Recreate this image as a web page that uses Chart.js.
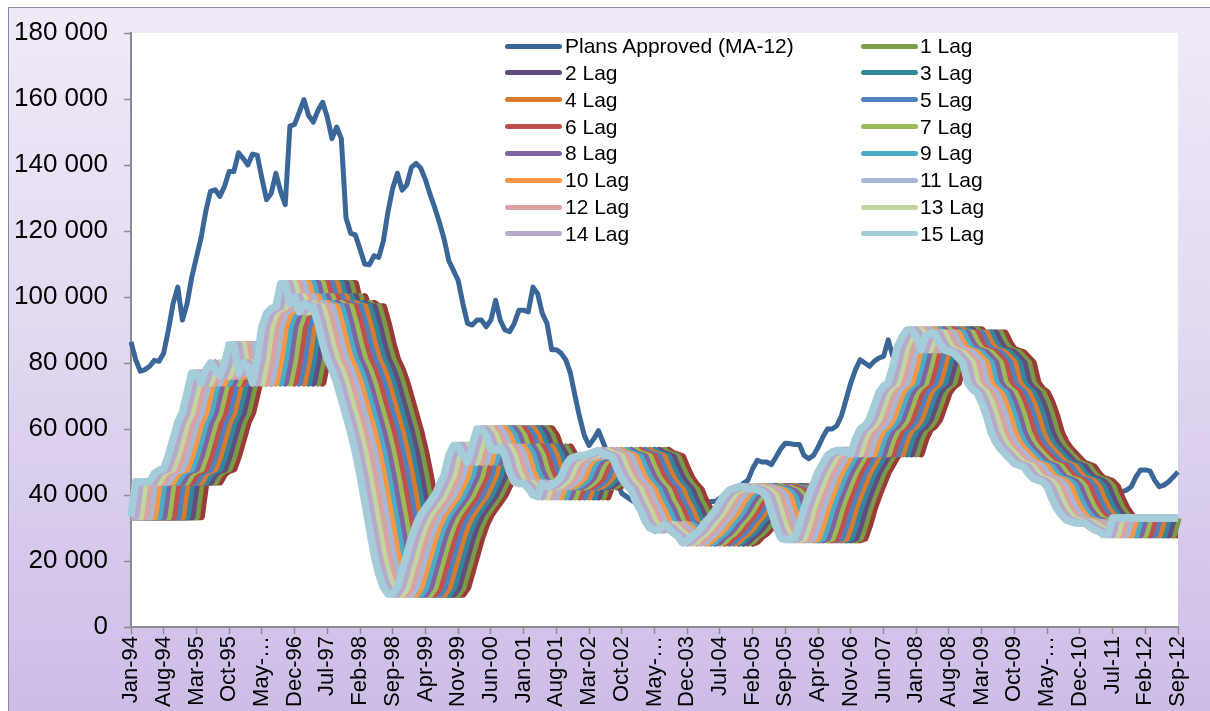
<!DOCTYPE html>
<html>
<head>
<meta charset="utf-8">
<title>Plans Approved (MA-12) and lags</title>
<script src="https://cdn.jsdelivr.net/npm/chart.js@4.4.1/dist/chart.umd.min.js"></script>
<style>
  html, body { margin: 0; padding: 0; background: #ffffff; }
  #stage { position: relative; width: 1210px; height: 711px; overflow: hidden; }
  #frame { position: absolute; left: 8px; top: 7px; right: 0; bottom: 0;
           background: linear-gradient(#f0eaf8 0%, #e3d9f1 45%, #ccbde7 100%);
           border-left: 1px solid #8e82a8; border-top: 1px solid #8e82a8; }
  #chart { position: absolute; left: 0; top: 0; }
  #legend { position: absolute; left: 0; top: 0; width: 1210px; height: 711px; pointer-events: none;
            font-family: "Liberation Sans", Arial, sans-serif; font-size: 21px; color: #000; }
  .key { position: absolute; height: 5px; border-radius: 2.5px; }
  .lab { position: absolute; line-height: 26px; white-space: nowrap; }
</style>
</head>
<body>
<div id="stage">
  <div id="frame"></div>
  <canvas id="chart" width="1210" height="711"></canvas>
  <div id="legend"></div>
</div>
<script>
// Month labels, Jan-94 .. Sep-12
const monthNames = ['Jan','Feb','Mar','Apr','May','Jun','Jul','Aug','Sep','Oct','Nov','Dec'];
const categories = [];
for (let y = 1994, m = 0; categories.length < 225; m++) {
  if (m === 12) { m = 0; y++; }
  categories.push(monthNames[m] + '-' + String(y % 100).padStart(2, '0'));
}

// Labels shown on the category axis (one every seventh month)
const tickLabels = ['Jan-94','Aug-94','Mar-95','Oct-95','May-\u2026','Dec-96','Jul-97','Feb-98','Sep-98',
  'Apr-99','Nov-99','Jun-00','Jan-01','Aug-01','Mar-02','Oct-02','May-\u2026','Dec-03','Jul-04','Feb-05',
  'Sep-05','Apr-06','Nov-06','Jun-07','Jan-08','Aug-08','Mar-09','Oct-09','May-\u2026','Dec-10','Jul-11',
  'Feb-12','Sep-12'];
const tickEvery = 7;

// Value axis ticks
const yTicks = [0, 20000, 40000, 60000, 80000, 100000, 120000, 140000, 160000, 180000];

// Plans approved, 12-month moving average (Jan-94 .. Sep-12)
const plansApproved = [
  86400, 81000, 77500, 78000, 79000, 80800, 80500, 83000, 90000, 98000, 103000, 93000,
  98000, 106000, 112000, 118000, 126000, 132000, 132500, 130500, 133500, 138000, 138000, 143700,
  142000, 140000, 143300, 143000, 136000, 129500, 131400, 137500, 132000, 128000, 151800, 152300,
  156000, 159800, 155000, 153000, 156500, 159000, 154500, 148000, 151500, 148000, 124000, 119300,
  118800, 114500, 110000, 109800, 112500, 112000, 117000, 126000, 133000, 137500, 132400, 134000,
  139300, 140500, 139000, 135500, 131000, 127000, 122500, 117500, 111000, 108000, 105000, 98000,
  92000, 91500, 93000, 93000, 91000, 93000, 99000, 93000, 90000, 89500, 92000, 96000,
  96000, 95500, 103000, 101000, 95000, 92000, 84000, 84000, 83000, 81000, 77000, 70000,
  63500, 58000, 55000, 57000, 59500, 56000, 52500, 48000, 44000, 40500, 39500, 38500,
  37500, 35000, 32000, 30000, 29000, 29500, 30000, 30500, 31000, 31500, 32000, 33000,
  34000, 35000, 36000, 37000, 38000, 38000, 39000, 40000, 40500, 41500, 42500, 43500,
  44500, 48000, 50500, 50000, 50000, 49200, 51500, 54000, 55700, 55500, 55300, 55300,
  52000, 51000, 52000, 54500, 57500, 60000, 60000, 61000, 64000, 69000, 74000, 78000,
  81000, 80000, 79000, 80500, 81500, 82000, 87000, 82000, 84000, 85000, 86000, 85000,
  84000, 85000, 84000, 83000, 82000, 81000, 80000, 79000, 78000, 77000, 76000, 75000,
  74000, 72000, 70000, 68000, 66000, 64000, 62000, 60000, 58000, 56000, 54000, 52000,
  50000, 49000, 48000, 47000, 46000, 45500, 45000, 44500, 44000, 43500, 43000, 42500,
  42000, 42000, 41500, 41500, 41000, 41000, 41000, 41000, 41000, 41500, 42500, 45500,
  47600, 47600, 47300, 44500, 42500, 43000, 44000, 45500, 47000
];

// Series that the lags are taken from, Jan-94 .. Dec-13 (lag k at month i reads month i + k)
const laggedSeries = [
  33500, 33500, 33500, 33500, 33500, 33500, 33500, 33500, 33500, 33500, 33500, 33500,
  33500, 33500, 33500, 33500, 44000, 44000, 44000, 44000, 46500, 47500, 48000, 52000,
  57000, 62000, 65000, 71000, 77000, 77000, 74000, 78000, 80000, 78000, 76000, 80000,
  85500, 85500, 77000, 80000, 79000, 74000, 81000, 91000, 95000, 96500, 97000, 104000,
  104000, 98000, 100000, 95500, 98000, 97000, 97000, 92000, 86000, 81000, 78000, 74000,
  69000, 64000, 59000, 53000, 46000, 38000, 30000, 22000, 16000, 12000, 10000, 10000,
  12000, 17000, 22000, 27000, 31000, 34000, 36000, 38000, 40000, 43000, 46000, 52000,
  55000, 55000, 52000, 50000, 55000, 60000, 60000, 58000, 54000, 53500, 54500, 52000,
  47000, 44000, 43500, 43500, 42000, 40000, 39500, 43500, 42500, 43000, 44000, 45500,
  49000, 51000, 51500, 52000, 52000, 52500, 53000, 53500, 52500, 52000, 51500, 48000,
  45000, 43000, 41500, 38000, 35500, 32000, 30000, 29500, 29500, 31000, 30000, 28500,
  27500, 25500, 26000, 27500, 28500, 30000, 32000, 33500, 35500, 38000, 40000, 41500,
  42000, 42500, 42500, 42000, 42000, 41500, 41000, 39500, 35000, 30500, 27000, 26500,
  26500, 27000, 31000, 36000, 40000, 43500, 47000, 49500, 52000, 53000, 53500, 53500,
  53000, 52500, 57000, 60000, 61000, 63000, 67000, 71000, 73000, 74000, 79000, 85000,
  88000, 90000, 90000, 88000, 84000, 88000, 89000, 89000, 86000, 84000, 83500, 83000,
  81500, 80000, 74000, 72000, 71000, 68000, 64000, 59000, 56000, 54000, 52500, 51000,
  49500, 49000, 48500, 46500, 45000, 44500, 44000, 42500, 39000, 36000, 34000, 32500,
  32000, 31500, 31500, 31500, 30500, 29500, 29000, 28000, 28000, 33000, 33000, 33000,
  33000, 33000, 33000, 33000, 33000, 33000, 33000, 33000, 33000, 33000, 33000, 33000
];

// Series names and colours
const lagNames = ['0 Lag','1 Lag','2 Lag','3 Lag','4 Lag','5 Lag','6 Lag','7 Lag','8 Lag',
                  '9 Lag','10 Lag','11 Lag','12 Lag','13 Lag','14 Lag','15 Lag'];
const lagColors = ['#9b3b38','#7a9a46','#624c7e','#33879d','#d87a30','#4f81bd','#c0504d','#9bbb59',
                   '#8064a2','#4bacc6','#f79646','#a7b8d7','#d9a3a1','#c4d6a0','#b7a9cb','#a5ccd9'];
const plansName = 'Plans Approved (MA-12)';
const plansColor = '#3b6698';

const FONT = '"Liberation Sans", Arial, sans-serif';

const datasets = [{
  label: plansName, data: plansApproved, borderColor: plansColor, backgroundColor: plansColor,
  borderWidth: 5, order: lagNames.length
}];
lagNames.forEach((name, k) => {
  datasets.push({
    label: name,
    data: laggedSeries.slice(k, k + categories.length),
    borderColor: lagColors[k], backgroundColor: lagColors[k],
    borderWidth: 7.5,
    order: lagNames.length - 1 - k   // higher lags are painted over lower ones
  });
});

const plotAreaFill = {
  id: 'plotAreaFill',
  beforeDraw(chart) {
    const { ctx, chartArea: a } = chart;
    ctx.save();
    ctx.fillStyle = '#ffffff';
    ctx.fillRect(a.left, a.top, a.right - a.left, a.bottom - a.top);
    ctx.restore();
  }
};

const fmt = v => String(v).replace(/\B(?=(\d{3})+(?!\d))/g, ' ');

new Chart(document.getElementById('chart'), {
  type: 'line',
  data: { labels: categories, datasets },
  plugins: [plotAreaFill],
  options: {
    responsive: false,
    animation: false,
    devicePixelRatio: 1,
    layout: { padding: { left: 0, top: 33, right: 32, bottom: 0 } },
    elements: {
      point: { radius: 0, hoverRadius: 0 },
      line: { tension: 0, borderJoinStyle: 'round', borderCapStyle: 'butt', fill: false }
    },
    plugins: { legend: { display: false }, tooltip: { enabled: false } },
    scales: {
      x: {
        type: 'category',
        offset: false,
        afterFit: s => { s.height = 84; },
        // keep one tick every seventh month
        afterBuildTicks: s => { s.ticks = s.ticks.filter(t => t.value % tickEvery === 0); },
        grid: { drawOnChartArea: false, drawTicks: true, tickLength: 7, tickWidth: 1.5, tickColor: '#8c8c8c' },
        border: { display: true, color: '#8c8c8c', width: 2 },
        ticks: {
          autoSkip: false, minRotation: 90, maxRotation: 90, padding: 2,
          color: '#000', font: { family: FONT, size: 22 },
          callback: (v, i) => tickLabels[i]
        }
      },
      y: {
        min: 0, max: 180000,
        afterFit: s => { s.width = 131; },
        afterBuildTicks: s => { s.ticks = yTicks.map(v => ({ value: v })); },
        grid: { drawOnChartArea: false, drawTicks: true, tickLength: 7, tickWidth: 1.5, tickColor: '#8c8c8c' },
        border: { display: true, color: '#8c8c8c', width: 2 },
        ticks: {
          padding: 16, color: '#000', font: { family: FONT, size: 26 },
          callback: v => fmt(v)
        }
      }
    }
  }
});

// Two-column legend placed inside the plot area
(function buildLegend() {
  const box = document.getElementById('legend');
  const entries = [{ name: plansName, color: plansColor }]
    .concat(lagNames.slice(1).map((n, i) => ({ name: n, color: lagColors[i + 1] })));
  const cols = [{ keyX: 505, textX: 565 }, { keyX: 861, textX: 920 }];
  entries.forEach((e, i) => {
    const col = cols[i % 2];
    const cy = 46 + Math.floor(i / 2) * 26.85;
    const key = document.createElement('div');
    key.className = 'key';
    key.style.left = col.keyX + 'px';
    key.style.width = '57px';
    key.style.top = (cy - 2.5) + 'px';
    key.style.background = e.color;
    const lab = document.createElement('div');
    lab.className = 'lab';
    lab.style.left = col.textX + 'px';
    lab.style.top = (cy - 13) + 'px';
    lab.textContent = e.name;
    box.appendChild(key);
    box.appendChild(lab);
  });
})();
</script>
</body>
</html>
